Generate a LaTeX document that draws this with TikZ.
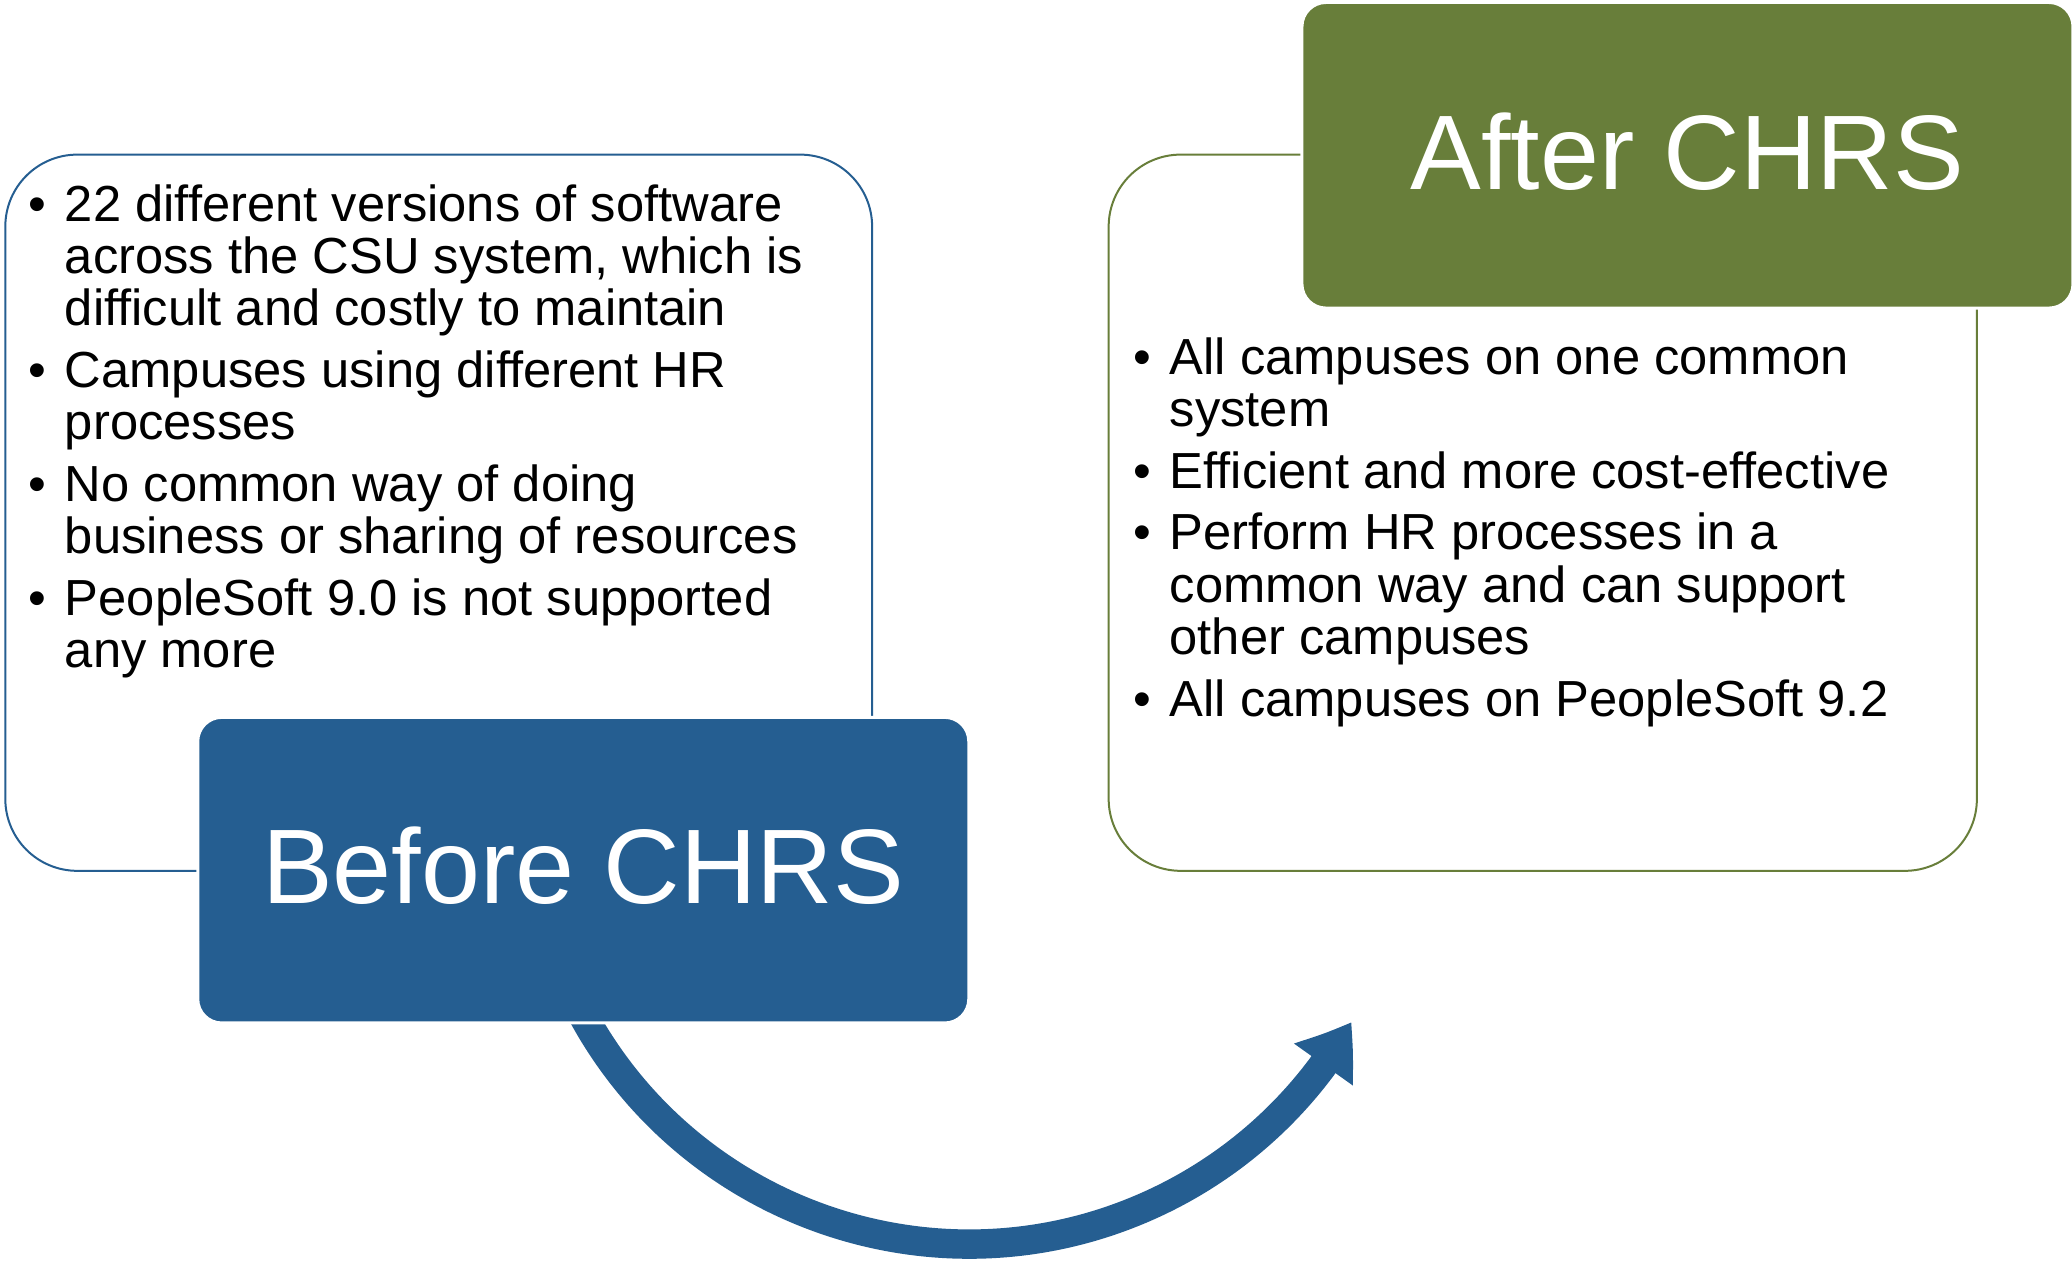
\documentclass[tikz,border=0pt]{standalone}
\usepackage{fontspec}
\setmainfont{Liberation Sans}
\usetikzlibrary{arrows.meta,bending}
\definecolor{chrsblue}{HTML}{255E91}
\definecolor{chrsgreen}{HTML}{687E3A}
\newcommand{\chrsbul}{\makebox[18.2pt][l]{•}}
\newcommand{\chrsind}{\hspace*{18.2pt}}
\begin{document}
\begin{tikzpicture}[x=0.6607pt,y=-0.6607pt,
  outlinebox/.style={draw, line width=1pt, rounded corners=36pt, minimum width=433.4pt, minimum height=358.1pt, inner sep=0pt},
  titlebox/.style={draw=white, line width=1.5pt, rounded corners=12pt, minimum width=385.5pt, minimum height=152.8pt, inner sep=0pt},
  titletext/.style={text=white, font=\fontsize{53}{60}\selectfont, inner sep=0pt, anchor=base},
  listtext/.style={anchor=north west, inner sep=0pt, font=\fontsize{25.35}{26.1}\selectfont, align=left},
  cycarrow/.style={chrsblue, line width=14.7pt, -{Triangle[length=25.5pt,width=34.3pt,bend]}}
]
\useasboundingbox (0,0) rectangle (1568,955);
% outline frames
\node[outlinebox, draw=chrsblue] (beforeframe) at (332,388) {};
\node[outlinebox, draw=chrsgreen, minimum width=434.1pt] (afterframe) at (1167.5,388) {};
% curved arrow (drawn below the title box)
\coordinate (arcc) at (733.3,608.4);
\path (arcc) ++(155:333) coordinate (arrowstart);
\draw[cycarrow] (arrowstart) arc[start angle=155, end angle=29.7, radius=333];
% title boxes
\node[titlebox, fill=chrsblue] (beforebox) at (441.4,658.5) {};
\node[titlebox, fill=chrsgreen] (afterbox) at (1277,117.5) {};
\node[titletext] (beforetitle) at (441.4,683.5) {Before CHRS};
\node[titletext] (aftertitle) at (1277,143.5) {After CHRS};
% lists
\node[listtext] (beforelist) at (21.3,139.2) {\begin{tabular}{@{}l@{}}
\chrsbul 22 different versions of software\\
\chrsind across the CSU system, which is\\
\chrsind difficult and costly to maintain\\[4.6pt]
\chrsbul Campuses using different HR\\
\chrsind processes\\[4.6pt]
\chrsbul No common way of doing\\
\chrsind business or sharing of resources\\[4.6pt]
\chrsbul PeopleSoft 9.0 is not supported\\
\chrsind any more
\end{tabular}};
\node[listtext] (afterlist) at (857.3,255.2) {\begin{tabular}{@{}l@{}}
\chrsbul All campuses on one common\\
\chrsind system\\[4.6pt]
\chrsbul Efficient and more cost-effective\\[4.6pt]
\chrsbul Perform HR processes in a\\
\chrsind common way and can support\\
\chrsind other campuses\\[4.6pt]
\chrsbul All campuses on PeopleSoft 9.2
\end{tabular}};
\end{tikzpicture}
\end{document}
